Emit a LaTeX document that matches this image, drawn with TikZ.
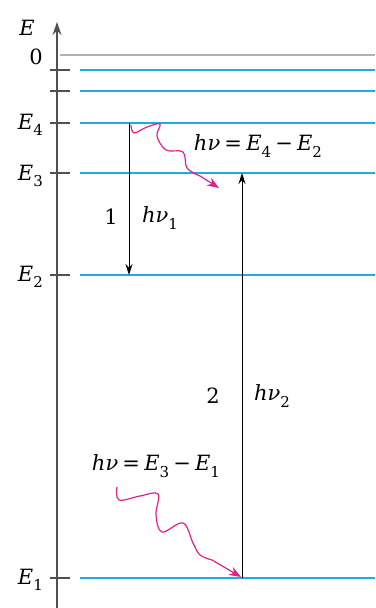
\documentclass[tikz,border=0pt]{standalone}
\usepackage{fontspec}
\usetikzlibrary{arrows.meta}
\newfontfamily\lf{DejaVu Serif}
\newcommand{\lsub}[1]{\raisebox{-0.3em}{\fontsize{15}{15}\selectfont\upshape #1}}
\newcommand{\lsp}{\hspace{0.2em}}
\definecolor{lvl}{RGB}{35,170,220}
\definecolor{ph}{RGB}{228,30,140}
\definecolor{axc}{RGB}{80,80,80}
\begin{document}
\begin{tikzpicture}[x=1pt,y=-1pt,
 level/.style={lvl,line width=2.6pt},
 zerol/.style={black!30,line width=1.6pt},
 tickm/.style={draw=axc,line width=1.2pt},
 axisl/.style={axc,line width=1.6pt,-{Stealth[length=13pt,width=9pt]}},
 trans/.style={line width=1pt,-{Stealth[length=11pt,width=7pt]}},
 photon/.style={ph,line width=1.2pt,-{Stealth[length=12pt,width=9pt]}},
 lab/.style={font=\lf\fontsize{21}{24}\selectfont,inner sep=0pt}
]
\useasboundingbox (0,0) rectangle (375,608);
% axis
\coordinate (axb) at (57,608);
\coordinate (axt) at (57,22);
\draw[axisl] (axb) -- (axt);
\node[lab] (lE) at (27,28) {\itshape E};
\node[lab] (l0) at (36,57) {0};
% zero line
\coordinate (z0) at (60,55);
\coordinate (z1) at (375,55);
\draw[zerol] (z0) -- (z1);
% levels and ticks
\foreach \n/\y in {a/70,b/91,c4/123,c3/173,c2/275,c1/578}{
  \coordinate (t\n l) at (50,\y);
  \coordinate (t\n r) at (70,\y);
  \draw[tickm] (t\n l) -- (t\n r);
  \coordinate (L\n l) at (80,\y);
  \coordinate (L\n r) at (375,\y);
  \draw[level] (L\n l) -- (L\n r);
}
\node[lab,anchor=base east] (lE4) at (43,129) {\itshape E\lsub{4}};
\node[lab,anchor=base east] (lE3) at (43,180) {\itshape E\lsub{3}};
\node[lab,anchor=base east] (lE2) at (43,281) {\itshape E\lsub{2}};
\node[lab,anchor=base east] (lE1) at (43,584) {\itshape E\lsub{1}};
% transition 1
\coordinate (a1s) at (129,123);
\coordinate (a1e) at (129,275);
\draw[trans] (a1s) -- (a1e);
\node[lab] (n1) at (111,217) {1};
\node[lab] (hv1) at (160,218) {\itshape hν\lsub{1}};
% transition 2
\coordinate (a2s) at (242,578);
\coordinate (a2e) at (242,173);
\draw[trans] (a2s) -- (a2e);
\node[lab] (n2) at (213,396) {2};
\node[lab] (hv2) at (272,396) {\itshape hν\lsub{2}};
% photon 1
\coordinate (p1s) at (131,125);
\coordinate (p1e) at (219,188);
\draw[photon] plot[smooth,tension=0.6] coordinates {(p1s) (134,133) (147,127) (160,124) (157,136) (166,150) (183,152) (187,168) (200,176)} -- (p1e);
\node[lab] (ph1) at (258,146) {\itshape hν\lsp=\lsp E\lsub{4}\lsp−\lsp E\lsub{2}};
% photon 2
\coordinate (p2s) at (117,487);
\coordinate (p2e) at (241,577);
\draw[photon] plot[smooth,tension=0.6] coordinates {(p2s) (119,500) (140,496) (158,494) (156,515) (162,532) (183,523) (193,543) (200,555) (212,560)} -- (p2e);
\node[lab] (ph2) at (156,466) {\itshape hν\lsp=\lsp E\lsub{3}\lsp−\lsp E\lsub{1}};
\end{tikzpicture}
\end{document}
